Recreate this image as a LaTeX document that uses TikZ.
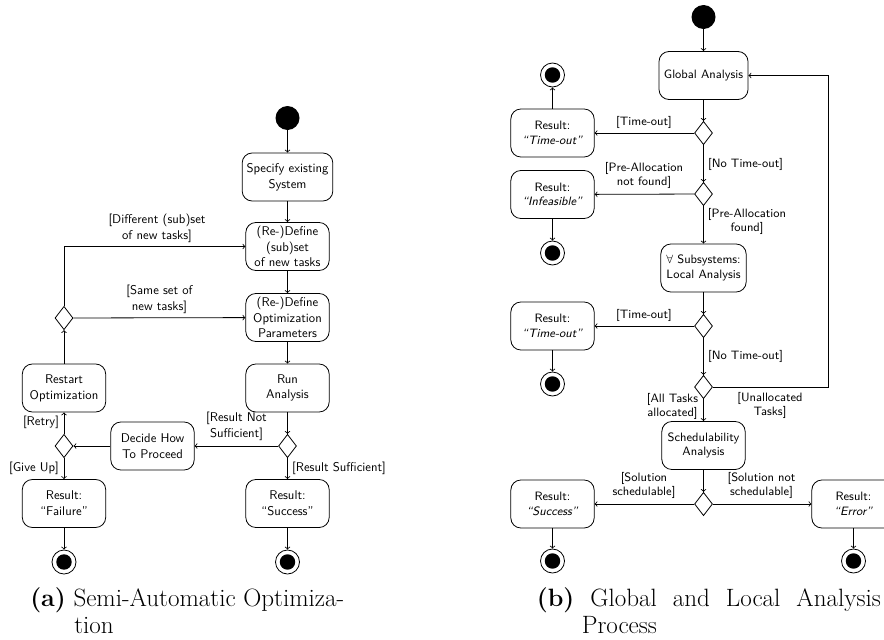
\documentclass[tikz,border=0pt]{standalone}
\usetikzlibrary{shapes.geometric}
\begin{document}
\begin{tikzpicture}[x=0.75pt,y=-0.75pt,
  font=\sffamily\fontsize{9.5}{11.8}\selectfont,
  action/.style={draw, line width=0.6pt, rounded corners=7.5pt, align=center,
    minimum width=62.5pt, minimum height=36pt, inner sep=2pt},
  decision/.style={draw, diamond, line width=0.6pt, inner sep=0pt,
    minimum width=13.5pt, minimum height=17.5pt},
  startnode/.style={circle, fill=black, minimum size=18pt, inner sep=0pt},
  endnode/.style={circle, draw, line width=0.6pt, minimum size=18pt, inner sep=0pt,
    path picture={\fill[black] (path picture bounding box.center) circle (5.8pt);}},
  guard/.style={align=center, inner sep=0pt},
  arr/.style={->, line width=0.6pt},
  caption/.style={anchor=base west, inner sep=0pt, font=\rmfamily\fontsize{18.8}{20.3}\selectfont},
  ]
\clip (0,0) rectangle (884,639);

% ---------- (a) semi-automatic optimization ----------
\node[startnode] (startA) at (287.5,118) {};
\node[action, minimum width=68pt] (specify) at (287.5,177) {Specify existing\\System};
\node[action] (subset) at (287.5,246.5) {(Re-)Define\\(sub)set\\of new tasks};
\node[action] (optparams) at (287.5,317.5) {(Re-)Define\\Optimization\\Parameters};
\node[action] (run) at (287.5,388) {Run\\Analysis};
\node[decision] (decR) at (287.5,446) {};
\node[action] (decide) at (152.5,446) {Decide How\\To Proceed};
\node[decision] (decL) at (64,446) {};
\node[action] (restart) at (64,388) {Restart\\Optimization};
\node[decision] (decTop) at (64,318) {};
\node[action] (failure) at (64,503.5) {Result:\\``Failure''};
\node[action] (successA) at (287.5,503.5) {Result:\\``Success''};
\node[endnode] (endFail) at (64,562) {};
\node[endnode] (endSucc) at (287.5,562) {};

\draw[arr] (startA) -- (specify);
\draw[arr] (specify) -- (subset);
\draw[arr] (subset) -- (optparams);
\draw[arr] (optparams) -- (run);
\draw[arr] (run) -- (decR);
\draw[arr] (decR) -- (decide);
\draw[arr] (decR) -- (successA);
\draw[arr] (decide) -- (decL);
\draw[arr] (decL) -- (restart);
\draw[arr] (decL) -- (failure);
\draw[arr] (restart) -- (decTop);
\draw[arr] (decTop) -- (optparams);
\draw[arr] (decTop.north) |- (subset.west);
\draw[arr] (failure) -- (endFail);
\draw[arr] (successA) -- (endSucc);

\node[guard] (gDiff) at (157,228) {[Different (sub)set\\of new tasks]};
\node[guard] (gSame) at (159.5,299) {[Same set of\\new tasks]};
\node[guard] (gNotSuff) at (236.5,426.5) {[Result Not\\Sufficient]};
\node[guard] (gSuff) at (339,468.5) {[Result Sufficient]};
\node[guard] (gRetry) at (41,422.5) {[Retry]};
\node[guard] (gGiveUp) at (34,468.5) {[Give Up]};

% caption with hanging second line
\node[caption] (capA) at (30,606) {\begin{tabular}[t]{@{}l@{}}\textbf{(a)} Semi-Automatic Optimiza-\\\hspace*{33pt}tion\end{tabular}};

% ---------- (b) global and local analysis ----------
\begin{scope}[font=\sffamily\fontsize{9.1}{10.9}\selectfont]
\node[startnode] (startB) at (703.5,17) {};
\node[action, minimum width=66.75pt] (global) at (703.5,75.5) {Global Analysis};
\node[decision] (d1) at (703.5,133) {};
\node[action] (to1) at (552.5,133) {Result:\\\textsl{``Time-out''}};
\node[endnode] (endTo1) at (552.5,75) {};
\node[decision] (d2) at (703.5,194) {};
\node[action] (infeas) at (552.5,194.5) {Result:\\\textsl{``Infeasible''}};
\node[endnode] (endInf) at (552.5,253) {};
\node[action, minimum width=64pt] (local) at (703.5,268) {$\forall$ Subsystems:\\Local Analysis};
\node[decision] (d3) at (703.5,326) {};
\node[action] (to2) at (552.5,326) {Result:\\\textsl{``Time-out''}};
\node[endnode] (endTo2) at (552.5,384) {};
\node[decision] (d4) at (703.5,387) {};
\node[action] (sched) at (703.5,445.5) {Schedulability\\Analysis};
\node[decision] (d5) at (703.5,504) {};
\node[action] (succB) at (552.5,504) {Result:\\\textsl{``Success''}};
\node[action] (errB) at (853.5,504) {Result:\\\textsl{``Error''}};
\node[endnode] (endSuccB) at (552.5,561) {};
\node[endnode] (endErr) at (853.5,561) {};
\coordinate (loop) at (828,387);

\draw[arr] (startB) -- (global);
\draw[arr] (global) -- (d1);
\draw[arr] (d1) -- (to1);
\draw[arr] (to1) -- (endTo1);
\draw[arr] (d1) -- (d2);
\draw[arr] (d2) -- (infeas);
\draw[arr] (infeas) -- (endInf);
\draw[arr] (d2) -- (local);
\draw[arr] (local) -- (d3);
\draw[arr] (d3) -- (to2);
\draw[arr] (to2) -- (endTo2);
\draw[arr] (d3) -- (d4);
\draw[arr] (d4) -- (sched);
\draw[arr] (d4.east) -- (loop) |- (global.east);
\draw[arr] (sched) -- (d5);
\draw[arr] (d5) -- (succB);
\draw[arr] (d5) -- (errB);
\draw[arr] (succB) -- (endSuccB);
\draw[arr] (errB) -- (endErr);

\node[guard] (gTo1) at (644,122.5) {[Time-out]};
\node[guard] (gNoTo1) at (745.5,164) {[No Time-out]};
\node[guard] (gNotFound) at (644,175.5) {[Pre-Allocation\\not found]};
\node[guard] (gFound) at (747,221.5) {[Pre-Allocation\\found]};
\node[guard] (gTo2) at (644,315) {[Time-out]};
\node[guard] (gNoTo2) at (745.5,356) {[No Time-out]};
\node[guard] (gAll) at (672.5,406.5) {[All Tasks\\allocated]};
\node[guard] (gUnalloc) at (770,405.5) {[Unallocated\\Tasks]};
\node[guard] (gSched) at (644,485.5) {[Solution\\schedulable]};
\node[guard] (gNotSched) at (761.5,485.5) {[Solution not\\schedulable]};
\end{scope}

\node[caption] (capB) at (536.5,606) {\begin{tabular}[t]{@{}l@{}}\hbox to 258pt{\textbf{(b)} Global and Local Analysis}\\\hspace*{33.75pt}Process\end{tabular}};
\end{tikzpicture}
\end{document}
